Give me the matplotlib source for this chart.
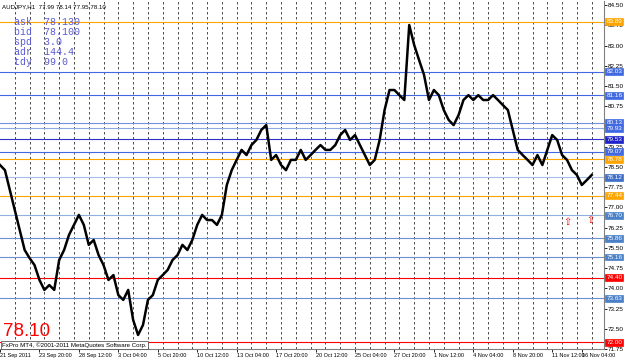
import matplotlib.pyplot as plt
import matplotlib.transforms as mtransforms
import numpy as np

closes = [78.57, 78.38, 77.64, 76.90, 76.16, 75.42, 75.12, 74.86, 74.31, 73.94,
          74.12, 73.94, 75.05, 75.42, 75.98, 76.35, 76.72, 76.35, 75.61, 75.79,
          75.23, 74.86, 74.31, 74.49, 73.75, 73.57, 73.94, 72.83, 72.27, 72.64,
          73.57, 73.75, 74.31, 74.49, 74.68, 75.05, 75.23, 75.61, 75.42, 75.79,
          76.35, 76.72, 76.53, 76.53, 76.35, 76.72, 77.83, 78.38, 78.76, 79.13,
          78.94, 79.31, 79.50, 79.87, 80.05, 78.76, 78.94, 78.57, 78.38, 78.76,
          78.76, 79.13, 78.76, 78.94, 79.13, 79.31, 79.13, 79.13, 79.31, 79.68,
          79.87, 79.50, 79.68, 79.31, 78.94, 78.57, 78.76, 79.50, 80.61, 81.35,
          81.35, 81.16, 80.98, 83.76, 83.02, 82.46, 81.91, 80.98, 81.35, 81.16,
          80.61, 80.24, 80.05, 80.42, 80.98, 81.16, 80.98, 81.16, 80.98, 80.98,
          81.16, 80.98, 80.79, 80.61, 79.87, 79.13, 78.94, 78.76, 78.57, 78.94,
          78.57, 79.13, 79.68, 79.50, 78.94, 78.76, 78.38, 78.20, 77.83, 78.01,
          78.20]
bar_step = 8
n_bars = 980

levels = [83.89, 82.03, 81.16, 80.13, 79.93, 79.53, 79.07, 78.78, 78.12,
          77.44, 76.70, 75.86, 75.16, 74.40, 73.63, 72.00]
level_colors = ['#FFA500', '#4169E1', '#4169E1', '#4169E1', '#4169E1', '#1E22C8',
                '#4169E1', '#FFA500', '#3F6FC8', '#FFA500', '#4A80C8', '#4A80C8',
                '#4A80C8', '#FF0000', '#4A80C8', '#FF0000']
line_colors = ['#FFA500', '#4169E1', '#4169E1', '#7090E0', '#8FA8E8', '#3030C8',
               '#4169E1', '#FFA500', '#A8BCE8', '#FFA500', '#90B0E0', '#6A90D0',
               '#6A90D0', '#FF0000', '#6A90D0', '#FF0000']

date_labels = ['21 Sep 2011', '23 Sep 20:00', '28 Sep 12:00', '3 Oct 04:00',
               '5 Oct 20:00', '10 Oct 12:00', '13 Oct 04:00', '17 Oct 20:00',
               '20 Oct 12:00', '25 Oct 04:00', '27 Oct 20:00', '1 Nov 12:00',
               '4 Nov 04:00', '8 Nov 20:00', '11 Nov 12:00', '16 Nov 04:00']
date_bars = [0, 64, 128, 192, 256, 320, 384, 448, 512, 576, 640, 704, 768, 832, 896, 944]

info = [('ask', '78.130'), ('bid', '78.100'), ('spd', '3.0'), ('adr', '144.4'), ('tdy', '99.0')]
arrow_bars = [920, 958]
arrow_prices = [76.46, 76.53]

fig = plt.figure(figsize=(6.25, 3.61), dpi=100)
ax = fig.add_axes([0, 12 / 361, 604 / 625, 348 / 361])
ax.set_xlim(0, n_bars)
ax.set_ylim(71.75, 84.65)

# day separators
for b in range(24, n_bars, 24):
    ax.axvline(b, color='#303030', lw=0.6, ls=(0, (3, 3)), zorder=1)

# level lines
for lv, c in zip(levels, line_colors):
    ax.axhline(lv, color=c, lw=0.8, zorder=2)

x = np.arange(len(closes)) * bar_step
ax.plot(x, closes, color='black', lw=1.8, zorder=3)

# arrows
for b, p in zip(arrow_bars, arrow_prices):
    ax.text(b, p, '\u21e7', color='red', fontsize=7, ha='center', va='center', zorder=4)

# axes styling
for s in ['left', 'top']:
    ax.spines[s].set_visible(False)
for s in ['right', 'bottom']:
    ax.spines[s].set_color('#808080')
    ax.spines[s].set_linewidth(0.8)

ax.yaxis.tick_right()
yt = np.arange(71.75, 84.51, 0.75)
ax.set_yticks(yt)
ax.set_yticklabels(['%.2f' % v for v in yt])
ax.tick_params(axis='y', direction='out', length=2, width=0.6, pad=1,
               labelsize=4.6, colors='black')
ax.set_xticks(date_bars)
ax.set_xticklabels(date_labels, ha='left')
ax.tick_params(axis='x', direction='out', length=2, width=0.6, pad=1, labelsize=4.0)
for lab in ax.get_xticklabels() + ax.get_yticklabels():
    lab.set_family('Liberation Sans')

trans = mtransforms.blended_transform_factory(ax.transAxes, ax.transData)
for lv, c in zip(levels, level_colors):
    ax.text(1.004, lv, '%.2f' % lv, transform=trans, color='white', fontsize=4.6,
            family='Liberation Sans', va='center', ha='left', zorder=5,
            bbox=dict(boxstyle='square,pad=0.15', fc=c, ec=c, lw=0.5))

# header and info block
ax.text(0.003, 0.99, 'AUDJPY,H1  77.99 78.14 77.95 78.10', transform=ax.transAxes,
        fontsize=4.4, family='Liberation Sans', va='top', ha='left')
for i, (k, v) in enumerate(info):
    ax.text(0.023, 0.955 - i * 0.029, '%s  %s' % (k, v), transform=ax.transAxes,
            fontsize=7.2, family='Liberation Mono', color='#5A5AD2', va='top', ha='left')

ax.text(0.005, 0.036, '78.10', transform=ax.transAxes, fontsize=13.5,
        family='Liberation Sans', color='red', va='baseline', ha='left')
ax.text(0.004, 0.003, 'FxPro MT4, \u00a92001-2011 MetaQuotes Software Corp.',
        transform=ax.transAxes, fontsize=4.4, family='Liberation Sans', va='bottom',
        ha='left', bbox=dict(boxstyle='square,pad=0.2', fc='white', ec='#404040', lw=0.5))

plt.savefig('out.png', dpi=100)
